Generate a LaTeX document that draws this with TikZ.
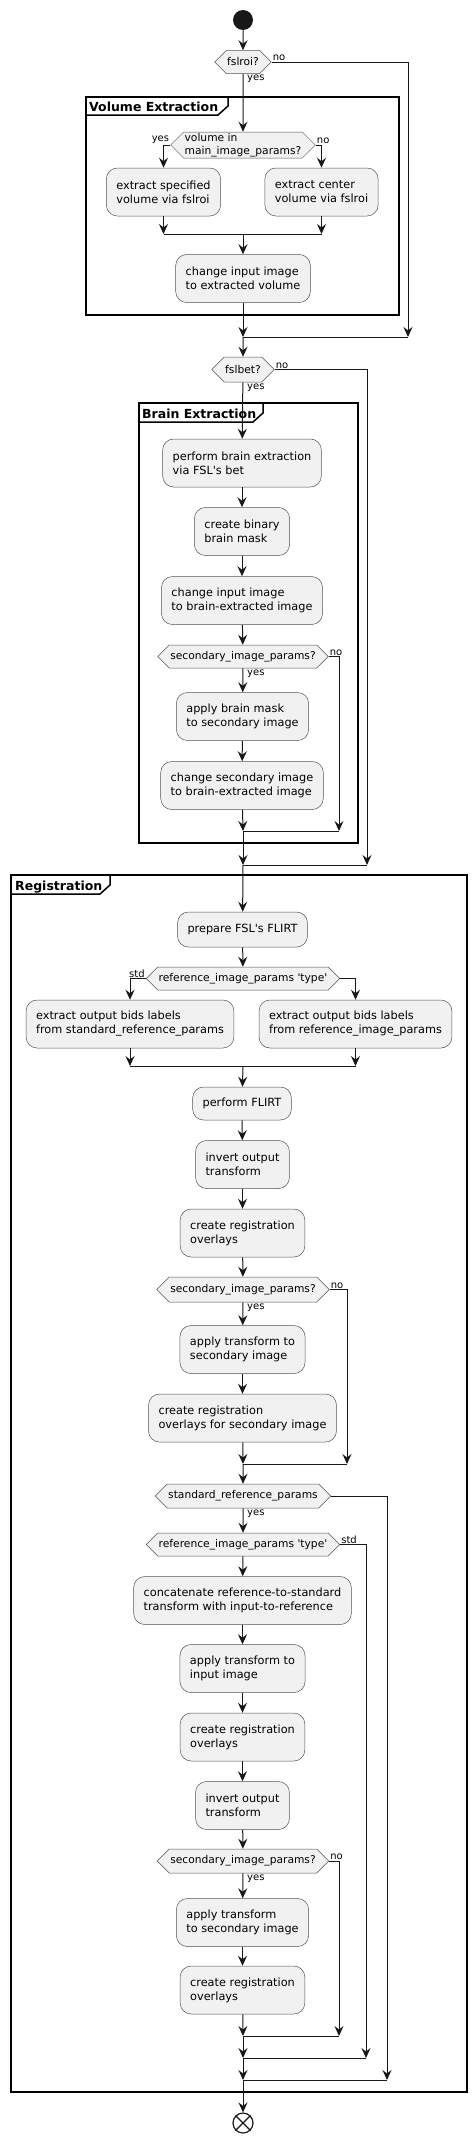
\documentclass[tikz,border=0pt]{standalone}
\usepackage{fontspec}
\setmainfont{DejaVu Sans}
\usetikzlibrary{arrows.meta,shapes.symbols}
\definecolor{actfill}{HTML}{F1F1F1}
\definecolor{actline}{HTML}{181818}
\begin{document}
\begin{tikzpicture}[x=1pt,y=-1pt,
       >={Stealth[length=10pt,width=9pt,inset=3.5pt]},
       flow/.style={line width=1pt,draw=actline},
       act/.style={draw=actline!75,line width=0.5pt,fill=actfill,rounded corners=11pt,align=left,
                   inner xsep=10pt,minimum height=48pt,font=\fontsize{11.3}{14}\selectfont},
       choice/.style={draw=actline!75,line width=0.5pt,fill=actfill,shape=signal,signal to=east and west,
                   align=left,inner xsep=1pt,inner ysep=1pt,minimum height=23pt,font=\fontsize{10.7}{12.5}\selectfont},
       lbl/.style={inner sep=1pt,font=\fontsize{10}{11}\selectfont},
       grp/.style={line width=1.5pt},
       grptitle/.style={anchor=base west,inner sep=0pt,font=\fontsize{12.5}{14}\selectfont\bfseries}]
       \useasboundingbox (0,0) rectangle (476,2142);

       \draw[grp] (86,97) rectangle (399,315);
       \draw[grp] (86,115) -- (218,115) -- (228,106) -- (228,97);
       \node[grptitle] (tve) at (89,111) {Volume Extraction};

       \draw[grp] (139,403) rectangle (358,843);
       \draw[grp] (139,422) -- (253,422) -- (263,413) -- (263,403);
       \node[grptitle] (tbe) at (142,418) {Brain Extraction};

       \draw[grp] (11,875) rectangle (467,2092);
       \draw[grp] (11,894) -- (100,894) -- (110,885) -- (110,875);
       \node[grptitle] (treg) at (15,890) {Registration};

       \node[circle,fill=actline,minimum size=20pt,inner sep=0pt] (start) at (243,20) {};
       \node[choice] (d1) at (243,62) {fslroi?};
       \node[choice,minimum height=26pt] (d2) at (243,145) {volume in\\main\_image\_params?};
       \node[act] (a1) at (163.5,192) {extract specified\\volume via fslroi};
       \node[act] (a2) at (321.5,192) {extract center\\volume via fslroi};
       \node[act] (a3) at (243,278.5) {change input image\\to extracted volume};
       \coordinate (m0l) at (163.5,234);
       \coordinate (m0) at (243,234);
       \coordinate (m0r) at (321.5,234);
       \coordinate (m1) at (243,337);
       \coordinate (m1r) at (408,337);

       \node[choice,minimum height=25pt] (d3) at (243,369.5) {fslbet?};
       \node[act] (b1) at (242,463) {perform brain extraction\\via FSL\textquotesingle s bet};
       \node[act] (b2) at (242,531.5) {create binary\\brain mask};
       \node[act] (b3) at (242,600.5) {change input image\\to brain-extracted image};
       \node[choice] (d4) at (243,656.5) {secondary\_image\_params?};
       \node[act] (b4) at (242.5,716.5) {apply brain mask\\to secondary image};
       \node[act] (b5) at (242,785.5) {change secondary image\\to brain-extracted image};
       \coordinate (m2) at (243,831);
       \coordinate (m2r) at (339,831);
       \coordinate (m3) at (243,865);
       \coordinate (m3r) at (367,865);

       \node[act,minimum height=35pt] (r1) at (242.5,929.5) {prepare FSL\textquotesingle s FLIRT};
       \node[choice] (d5) at (243,978.5) {reference\_image\_params \textquotesingle type\textquotesingle};
       \node[act] (r2) at (130,1024) {extract output bids labels\\from standard\_reference\_params};
       \node[act] (r3) at (355.5,1024) {extract output bids labels\\from reference\_image\_params};
       \coordinate (m4l) at (130,1066);
       \coordinate (m4) at (243,1066);
       \coordinate (m4r) at (355.5,1066);
       \node[act,minimum height=33pt] (r4) at (242,1103.5) {perform FLIRT};
       \node[act] (r5) at (242.5,1164.5) {invert output\\transform};
       \node[act] (r6) at (242.5,1233) {create registration\\overlays};
       \node[choice,minimum height=25pt] (d6) at (243,1289.5) {secondary\_image\_params?};
       \node[act] (r7) at (242.5,1349.5) {apply transform to\\secondary image};
       \node[act] (r8) at (242.5,1418) {create registration\\overlays for secondary image};
       \coordinate (m5) at (243,1464);
       \coordinate (m5r) at (347,1464);
       \node[choice,minimum height=24pt] (d7) at (243,1496) {standard\_reference\_params};
       \node[choice] (d8) at (243,1544.5) {reference\_image\_params \textquotesingle type\textquotesingle};
       \node[act] (r9) at (242.5,1600.5) {concatenate reference-to-standard\\transform with input-to-reference};
       \node[act] (r10) at (242.5,1668.5) {apply transform to\\input image};
       \node[act] (r11) at (242.5,1737) {create registration\\overlays};
       \node[act] (r12) at (242.5,1805.5) {invert output\\transform};
       \node[choice,minimum height=24pt] (d9) at (243,1861) {secondary\_image\_params?};
       \node[act] (r13) at (242.5,1922.5) {apply transform\\to secondary image};
       \node[act] (r14) at (242.5,1990) {create registration\\overlays};
       \coordinate (m6) at (243,2036);
       \coordinate (m6r) at (339,2036);
       \coordinate (m7) at (243,2058);
       \coordinate (m7r) at (366,2058);
       \coordinate (m8) at (243,2080);
       \coordinate (m8r) at (387,2080);
       \node[circle,draw=actline,line width=1.2pt,minimum size=20pt,inner sep=0pt] (stop) at (243,2123) {};
       \draw[line width=1.2pt,actline] (stop.45) -- (stop.225) (stop.135) -- (stop.315);

       \draw[flow,->] (start) -- (d1);
       \draw[flow,->] (d1) -- (d2);
       \node[lbl,anchor=north west] (l1y) at ([xshift=3pt]d1.south) {yes};
       \draw[flow,->] (d1.east) -| (m1r);
       \node[lbl,anchor=south west] (l1n) at (d1.east) {no};
       \draw[flow,->] (d2.west) -| (a1);
       \node[lbl,anchor=south east] (l2y) at (d2.west) {yes};
       \draw[flow,->] (d2.east) -| (a2);
       \node[lbl,anchor=south west] (l2n) at (d2.east) {no};
       \draw[flow,->] (a1) -- (m0l);
       \draw[flow,->] (a2) -- (m0r);
       \draw[flow] (m0l) -- (m0r);
       \draw[flow,->] (m0) -- (a3);
       \draw[flow,->] (a3) -- (m1);
       \draw[flow] (m1) -- (m1r);
       \draw[flow,->] (m1) -- (d3);

       \draw[flow,->] (d3) -- (b1);
       \node[lbl,anchor=north west] (l3y) at ([xshift=3pt]d3.south) {yes};
       \draw[flow,->] (d3.east) -| (m3r);
       \node[lbl,anchor=south west] (l3n) at (d3.east) {no};
       \draw[flow,->] (b1) -- (b2);
       \draw[flow,->] (b2) -- (b3);
       \draw[flow,->] (b3) -- (d4);
       \draw[flow,->] (d4) -- (b4);
       \node[lbl,anchor=north west] (l4y) at ([xshift=3pt]d4.south) {yes};
       \draw[flow,->] (d4.east) -| (m2r);
       \node[lbl,anchor=south west] (l4n) at (d4.east) {no};
       \draw[flow,->] (b4) -- (b5);
       \draw[flow,->] (b5) -- (m2);
       \draw[flow] (m2) -- (m2r);
       \draw[flow,->] (m2) -- (m3);
       \draw[flow] (m3) -- (m3r);
       \draw[flow,->] (m3) -- (r1);

       \draw[flow,->] (r1) -- (d5);
       \draw[flow,->] (d5.west) -| (r2);
       \node[lbl,anchor=south east] (l5s) at (d5.west) {std};
       \draw[flow,->] (d5.east) -| (r3);
       \draw[flow,->] (r2) -- (m4l);
       \draw[flow,->] (r3) -- (m4r);
       \draw[flow] (m4l) -- (m4r);
       \draw[flow,->] (m4) -- (r4);
       \draw[flow,->] (r4) -- (r5);
       \draw[flow,->] (r5) -- (r6);
       \draw[flow,->] (r6) -- (d6);
       \draw[flow,->] (d6) -- (r7);
       \node[lbl,anchor=north west] (l6y) at ([xshift=3pt]d6.south) {yes};
       \draw[flow,->] (d6.east) -| (m5r);
       \node[lbl,anchor=south west] (l6n) at (d6.east) {no};
       \draw[flow,->] (r7) -- (r8);
       \draw[flow,->] (r8) -- (m5);
       \draw[flow] (m5) -- (m5r);
       \draw[flow,->] (m5) -- (d7);
       \draw[flow,->] (d7) -- (d8);
       \node[lbl,anchor=north west] (l7y) at ([xshift=3pt]d7.south) {yes};
       \draw[flow,->] (d7.east) -| (m8r);
       \draw[flow,->] (d8.east) -| (m7r);
       \node[lbl,anchor=south west] (l8s) at (d8.east) {std};
       \draw[flow,->] (d8) -- (r9);
       \draw[flow,->] (r9) -- (r10);
       \draw[flow,->] (r10) -- (r11);
       \draw[flow,->] (r11) -- (r12);
       \draw[flow,->] (r12) -- (d9);
       \draw[flow,->] (d9) -- (r13);
       \node[lbl,anchor=north west] (l9y) at ([xshift=3pt]d9.south) {yes};
       \draw[flow,->] (d9.east) -| (m6r);
       \node[lbl,anchor=south west] (l9n) at (d9.east) {no};
       \draw[flow,->] (r13) -- (r14);
       \draw[flow,->] (r14) -- (m6);
       \draw[flow] (m6) -- (m6r);
       \draw[flow,->] (m6) -- (m7);
       \draw[flow] (m7) -- (m7r);
       \draw[flow,->] (m7) -- (m8);
       \draw[flow] (m8) -- (m8r);
       \draw[flow,->] (m8) -- (stop);
\end{tikzpicture}
\end{document}
